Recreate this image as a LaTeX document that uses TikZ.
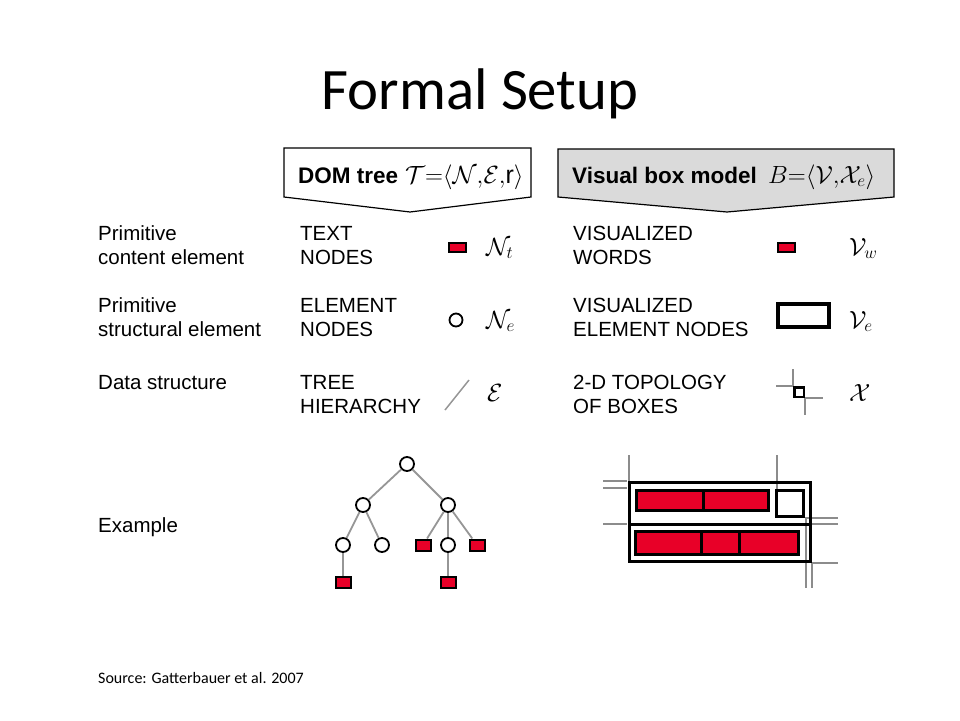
\documentclass[tikz,border=0pt]{standalone}
\usepackage{fontspec}
\setmainfont{Liberation Sans}
\newfontfamily\calibrifont{Carlito}
\definecolor{domred}{RGB}{232,0,40}
\definecolor{hdrgray}{RGB}{218,218,218}
\definecolor{edgegray}{RGB}{150,150,150}
\definecolor{gridgray}{RGB}{140,140,140}
\begin{document}
\begin{tikzpicture}[x=1pt,y=-1pt,
  lbl/.style={anchor=base west, inner sep=0pt, align=left, font=\fontsize{20.5}{23.7}\selectfont},
  hdr/.style={anchor=base west, inner sep=0pt, font=\bfseries\fontsize{22.5}{26}\selectfont},
  hmath/.style={anchor=base west, inner sep=0pt, font=\fontsize{25}{28}\selectfont},
  sym/.style={anchor=base west, inner sep=0pt, font=\fontsize{26}{30}\selectfont},
  hdrline/.style={draw=black, line width=1.2pt},
  tn/.style={circle, draw=black, line width=1.8pt, fill=white, minimum size=14pt, inner sep=0pt},
  tl/.style={rectangle, draw=black, line width=2pt, fill=domred, minimum width=15pt, minimum height=11pt, inner sep=0pt},
  treeedge/.style={draw=edgegray, line width=1.8pt},
  gridline/.style={draw=gridgray, line width=1.5pt},
  redbox/.style={draw=black, line width=3pt, fill=domred},
]
\useasboundingbox (0,0) rectangle (960,720);

% title
\node[font=\calibrifont\fontsize{58.7}{70}\selectfont, anchor=base, inner sep=0pt] (title) at (480,109) {Formal Setup};

% headers
\draw[hdrline, fill=white] (284,148) -- (531,148) -- (531,197) -- (410,212) -- (284,197) -- cycle;
\node[hdr] (domtxt) at (298,183) {DOM tree};
\node[hmath] (dommath) at (405,183) {$\mathcal{T}{=}\langle\mathcal{N}{,}\mathcal{E}{,}\mathrm{r}\rangle$};
\draw[hdrline, fill=hdrgray] (558,149) -- (894,149) -- (894,197) -- (727,212) -- (558,197) -- cycle;
\node[hdr] (vbmtxt) at (572,183) {Visual box model};
\node[hmath] (vbmmath) at (768,183) {$B{=}\langle\mathcal{V}{,}\mathcal{X}_{e}\rangle$};

% row labels (base anchor = last line)
\node[lbl] (r1) at (98,264) {Primitive\\content element};
\node[lbl] (r2) at (98,336) {Primitive\\structural element};
\node[lbl] (r3) at (98,389) {Data structure};
\node[lbl] (r4) at (98,532) {Example};

% DOM column
\node[lbl] (c1) at (300,264) {TEXT\\NODES};
\node[lbl] (c2) at (300,336) {ELEMENT\\NODES};
\node[lbl] (c3) at (300,413) {TREE\\HIERARCHY};

% box column
\node[lbl] (v1) at (573,264) {VISUALIZED\\WORDS};
\node[lbl] (v2) at (573,336) {VISUALIZED\\ELEMENT NODES};
\node[lbl] (v3) at (573,413) {2-D TOPOLOGY\\OF BOXES};

% DOM legend symbols
\node[tl, minimum width=17pt, minimum height=9pt] (lt) at (457.5,247.5) {};
\node[sym] (lnt) at (486,255) {$\mathcal{N}_{t}$};
\node[tn, minimum size=13pt] (le) at (456,320) {};
\node[sym] (lne) at (486,328) {$\mathcal{N}_{e}$};
\coordinate (ea) at (445,410);
\coordinate (eb) at (469,380);
\draw[draw=edgegray, line width=1.5pt] (ea) -- (eb);
\node[sym] (lE) at (487,401) {$\mathcal{E}$};

% box legend symbols
\node[tl, minimum width=17pt, minimum height=9pt] (lw) at (786,247) {};
\node[sym] (lvw) at (849,255) {$\mathcal{V}_{w}$};
\node[draw=black, line width=4pt, minimum width=51pt, minimum height=23pt, inner sep=0pt] (lve) at (803.5,315.5) {};
\node[sym] (lvv) at (849,328) {$\mathcal{V}_{e}$};
\node[draw=black, line width=2.5pt, minimum width=9.5pt, minimum height=9.5pt, inner sep=0pt] (lx) at (799,392) {};
\draw[gridline] (lx.north west) -- ++(-17,0);
\draw[gridline] (lx.north west) -- ++(0,-17);
\draw[gridline] (lx.south east) -- ++(18,0);
\draw[gridline] (lx.south east) -- ++(0,17);
\node[sym] (lX) at (849,401) {$\mathcal{X}$};

% DOM tree example
\node[tn] (root) at (407,464) {};
\node[tn] (na) at (363,505) {};
\node[tn] (nb) at (448,505) {};
\node[tn] (nc) at (343,545) {};
\node[tn] (nd) at (382,545) {};
\node[tl] (ne) at (423,545) {};
\node[tn] (nf) at (448,545) {};
\node[tl] (ng) at (477,545) {};
\node[tl] (nh) at (343,582) {};
\node[tl] (ni) at (448,582) {};
\draw[treeedge] (root) -- (na);
\draw[treeedge] (root) -- (nb);
\draw[treeedge] (na) -- (nc);
\draw[treeedge] (na) -- (nd);
\draw[treeedge] (nb) -- (ne);
\draw[treeedge] (nb) -- (nf);
\draw[treeedge] (nb) -- (ng);
\draw[treeedge] (nc) -- (nh);
\draw[treeedge] (nf) -- (ni);

% box model example
\draw[gridline] (629,455) -- (629,481);
\draw[gridline] (777,455) -- (777,489);
\draw[gridline] (603,481) -- (627,481);
\draw[gridline] (603,488) -- (627,488);
\draw[gridline] (603,524) -- (627,524);
\draw[gridline] (805,518) -- (838,518);
\draw[gridline] (812,524) -- (838,524);
\draw[gridline] (812,563) -- (838,563);
\draw[gridline] (806,518) -- (806,588);
\draw[gridline] (812,563) -- (812,588);
\draw[draw=black, line width=3pt] (629,482.5) rectangle (810.5,561.5);
\draw[draw=black, line width=3pt] (629,524) -- (810.5,524);
\draw[redbox] (636.5,490.5) rectangle (703,510.5);
\draw[redbox] (703,490.5) rectangle (768.5,510.5);
\draw[draw=black, line width=3pt, fill=white] (776.5,490.5) rectangle (803.5,516.5);
\draw[redbox] (635.5,531.5) rectangle (701,554.5);
\draw[redbox] (701,531.5) rectangle (739,554.5);
\draw[redbox] (739,531.5) rectangle (798.5,554.5);

% source
\node[font=\calibrifont\fontsize{16}{19}\selectfont, anchor=base west, inner sep=0pt] (src) at (98,683) {Source: Gatterbauer et al. 2007};
\end{tikzpicture}
\end{document}
